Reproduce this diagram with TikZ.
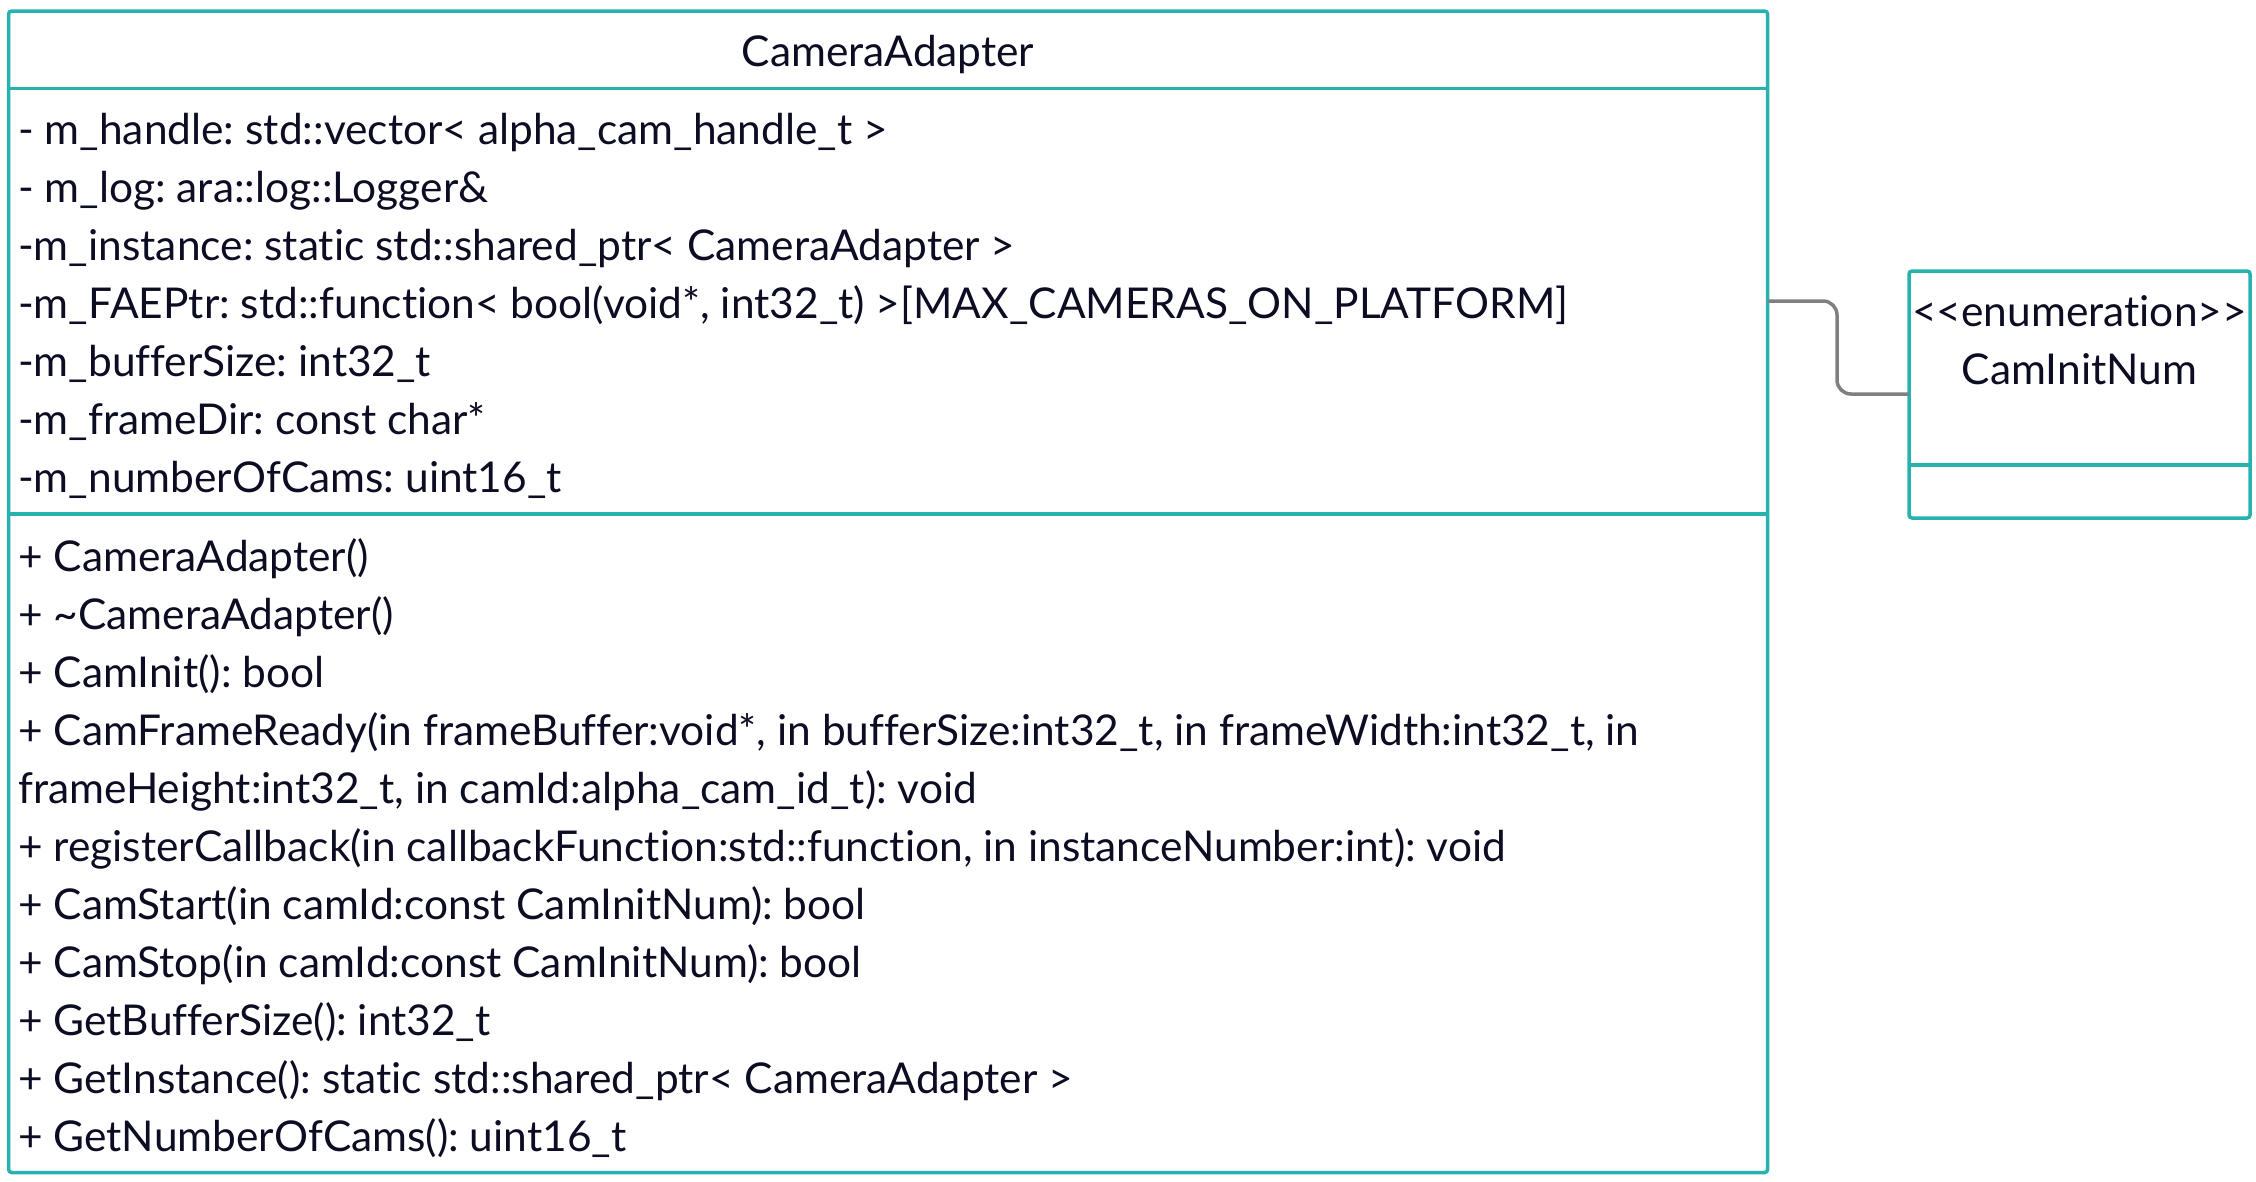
\documentclass[tikz,border=0pt]{standalone}
\usepackage{fontspec}
\setmainfont{Lato}[Ligatures=NoCommon]
\definecolor{tealb}{RGB}{39,178,175}
\definecolor{ink}{RGB}{12,12,35}
\definecolor{conng}{RGB}{128,128,128}
\begin{document}
\frenchspacing
\begin{tikzpicture}[x=1pt,y=-1pt,
  box/.style={draw=tealb, line width=3.5pt, rounded corners=3pt, inner sep=0pt, outer sep=0pt, anchor=north west},
  divider/.style={draw=tealb, line width=3.5pt},
  txt/.style={anchor=base west, inner sep=0pt, text=ink, font=\fontsize{42.45}{50}\selectfont\frenchspacing},
  ctxt/.style={anchor=base, inner sep=0pt, text=ink, font=\fontsize{42.45}{50}\selectfont\frenchspacing},
  conn/.style={draw=conng, line width=3.5pt, rounded corners=14pt}]
\useasboundingbox (0,0) rectangle (2256,1181);
% main class box
\node[box, minimum width=1759pt, minimum height=1161.5pt] (main) at (8.6,11) {};
\draw[divider] (8.6,88.5) -- (1767.6,88.5);
\draw[divider] (8.6,514) -- (1767.6,514);
\node[ctxt] (title) at (888,66) {CameraAdapter};
% attributes
\node[txt] (a1) at (18,144) {- m\_handle: std::vector< alpha\_cam\_handle\_t >};
\node[txt] (a2) at (18,202) {- m\_log: ara::log::Logger\&};
\node[txt] (a3) at (18,260) {-m\_instance: static std::shared\_ptr< CameraAdapter >};
\node[txt] (a4) at (18,318) {-m\_FAEPtr: std::function< bool(void*, int32\_t) >[MAX\_CAMERAS\_ON\_PLATFORM]};
\node[txt] (a5) at (18,376) {-m\_bufferSize: int32\_t};
\node[txt] (a6) at (18,434) {-m\_frameDir: const char*};
\node[txt] (a7) at (18,492) {-m\_numberOfCams: uint16\_t};
% methods
\node[txt] (m1) at (18,571) {+ CameraAdapter()};
\node[txt] (m2) at (18,629) {+ \textasciitilde CameraAdapter()};
\node[txt] (m3) at (18,687) {+ CamInit(): bool};
\node[txt] (m4) at (18,745) {+ CamFrameReady(in frameBuffer:void*, in bufferSize:int32\_t, in frameWidth:int32\_t, in};
\node[txt] (m5) at (18,803) {frameHeight:int32\_t, in camId:alpha\_cam\_id\_t): void};
\node[txt] (m6) at (18,861) {+ registerCallback(in callbackFunction:std::function, in instanceNumber:int): void};
\node[txt] (m7) at (18,919) {+ CamStart(in camId:const CamInitNum): bool};
\node[txt] (m8) at (18,977) {+ CamStop(in camId:const CamInitNum): bool};
\node[txt] (m9) at (18,1035) {+ GetBufferSize(): int32\_t};
\node[txt] (m10) at (18,1093) {+ GetInstance(): static std::shared\_ptr< CameraAdapter >};
\node[txt] (m11) at (18,1151) {+ GetNumberOfCams(): uint16\_t};
% enumeration box
\node[box, minimum width=341pt, minimum height=247pt] (enumbox) at (1909,271) {};
\draw[divider] (1909,465) -- (2250,465);
\node[ctxt] (stereo) at (2079.5,326) {<{}<enumeration>{}>};
\node[ctxt] (ename) at (2079.5,384) {CamInitNum};
% connector
\coordinate (cs) at (main.east |- 0,301);
\coordinate (ce) at (enumbox.west |- 0,394);
\draw[conn] (cs) -- (1837,301) -- (1837,394) -- (ce);
\end{tikzpicture}
\end{document}
